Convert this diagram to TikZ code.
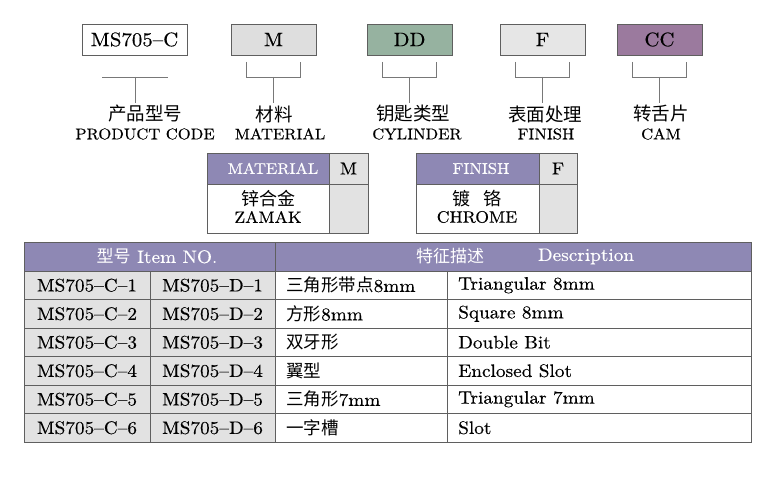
\documentclass[tikz,border=0pt]{standalone}
\usepackage{fontspec}
\setmainfont{lmroman10-regular}[Extension=.otf, Ligatures=TeX, FakeStretch=1.07, FakeBold=0.35]
\newfontfamily\cjk{Noto Sans CJK SC}
\definecolor{bordc}{RGB}{95,95,95}
\definecolor{brkc}{RGB}{120,120,120}
\definecolor{hdrpurple}{RGB}{142,136,180}
\definecolor{cellgray}{RGB}{226,226,226}
\definecolor{mgray}{RGB}{222,222,222}
\definecolor{fgray}{RGB}{230,230,230}
\definecolor{ddgreen}{RGB}{150,178,160}
\definecolor{ccpurple}{RGB}{155,122,158}
\tikzset{
  topbox/.style={draw=bordc, line width=0.8pt, minimum width=85pt, minimum height=31pt, inner sep=0pt, font=\fontsize{19.5}{22}\selectfont},
  brk/.style={draw=brkc, line width=0.9pt},
  cnlab/.style={inner sep=0pt, font=\cjk\fontsize{18.5}{20}\selectfont},
  enlab/.style={inner sep=0pt, font=\fontsize{15.5}{18}\selectfont},
  tline/.style={draw=bordc, line width=0.9pt},
  ttext/.style={inner sep=0pt, font=\fontsize{18}{20}\selectfont},
  tcn/.style={inner sep=0pt, font=\fontsize{18}{20}\selectfont, anchor=west},
  hdrtext/.style={inner sep=0pt, text=white, font=\fontsize{18}{20}\selectfont},
}
\newcommand{\tcjk}[1]{{\cjk\fontsize{17.5}{19}\selectfont #1}}
\begin{document}
\begin{tikzpicture}[x=1pt,y=-1pt]
\useasboundingbox[fill=white] (0,0) rectangle (778,500);

% ---------- top code boxes ----------
\node[topbox, fill=white, minimum width=105pt] (b1) at (134.5,39.5) {MS705--C};
\node[topbox, fill=mgray] (b2) at (273.5,39.5) {M};
\node[topbox, fill=ddgreen] (b3) at (409.5,39.5) {DD};
\node[topbox, fill=fgray] (b4) at (542.5,39.5) {F};
\node[topbox, fill=ccpurple] (b5) at (659.5,39.5) {CC};

% labels
\node[cnlab] (l1c) at (145,114) {产品型号};
\node[enlab] (l1e) at (145,134) {PRODUCT CODE};
\node[cnlab] (l2c) at (274,114) {材料};
\node[enlab] (l2e) at (280,134) {MATERIAL};
\node[cnlab] (l3c) at (413,114) {钥匙类型};
\node[enlab] (l3e) at (417,134) {CYLINDER};
\node[cnlab] (l4c) at (545,114) {表面处理};
\node[enlab] (l4e) at (546,134) {FINISH};
\node[cnlab] (l5c) at (661,114) {转舌片};
\node[enlab] (l5e) at (661,134) {CAM};

% bracket for product code (plain bar)
\coordinate (k1) at (135,77);
\draw[brk] (102,77) -- (168,77);
\draw[brk] (k1) -- (135,103);

% brackets
\foreach \b/\x in {2/273.5,3/409.5,4/542.5,5/659.5}{
  \coordinate (k\b) at (\x,77);
  \draw[brk] (\x-27,62) -- (\x-27,77) -- (\x+27,77) -- (\x+27,62);
  \draw[brk] (k\b) -- (\x,103);
}

% ---------- MATERIAL table ----------
\fill[hdrpurple] (207,153) rectangle (329,184);
\fill[cellgray] (329,153) rectangle (368,233);
\draw[tline] (207,153) rectangle (368,233);
\draw[tline] (207,184) -- (368,184);
\draw[tline] (329,153) -- (329,233);
\node[inner sep=0pt, text=white, font=\fontsize{15.5}{18}\selectfont] (mh) at (273,168.5) {MATERIAL};
\node[inner sep=0pt, font=\fontsize{17.5}{20}\selectfont] (mm) at (348.5,168.5) {M};
\node[inner sep=0pt, font=\cjk\fontsize{18}{20}\selectfont] (mc) at (268,199) {锌合金};
\node[inner sep=0pt, font=\fontsize{16.5}{19}\selectfont] (me) at (268,217) {ZAMAK};

% ---------- FINISH table ----------
\fill[hdrpurple] (416,153) rectangle (539,184);
\fill[cellgray] (539,153) rectangle (577,233);
\draw[tline] (416,153) rectangle (577,233);
\draw[tline] (416,184) -- (577,184);
\draw[tline] (539,153) -- (539,233);
\node[inner sep=0pt, text=white, font=\fontsize{15.5}{18}\selectfont] (fh) at (481,168.5) {FINISH};
\node[inner sep=0pt, font=\fontsize{17.5}{20}\selectfont] (ff) at (558,168.5) {F};
\node[inner sep=0pt, font=\cjk\fontsize{18}{20}\selectfont] (fc) at (477,199) {镀\hspace{0.7em}铬};
\node[inner sep=0pt, font=\fontsize{16.5}{19}\selectfont] (fe) at (477,217) {CHROME};

% ---------- main table ----------
\fill[hdrpurple] (24,242) rectangle (751,271);
\fill[cellgray] (24,271) rectangle (275,442);
\draw[tline] (24,242) rectangle (751,442);
\foreach \y in {271,299.5,328,356.5,385,413.5}{
  \draw[tline] (24,\y) -- (751,\y);
}
\draw[tline] (150,271) -- (150,442);
\draw[tline] (275,242) -- (275,442);
\draw[tline] (447,271) -- (447,442);

\node[hdrtext] (h1) at (157,256.5) {{\cjk\fontsize{17}{19}\selectfont 型号} Item NO.};
\node[hdrtext, font=\cjk\fontsize{17}{19}\selectfont] (h2) at (450,256.5) {特征描述};
\node[hdrtext] (h3) at (586,256.5) {Description};

\foreach \i/\cn/\en in {
  1/{\tcjk{三角形带点}8mm}/{Triangular 8mm},
  2/{\tcjk{方形}8mm}/{Square 8mm},
  3/{\tcjk{双牙形}}/{Double Bit},
  4/{\tcjk{翼型}}/{Enclosed Slot},
  5/{\tcjk{三角形}7mm}/{Triangular 7mm},
  6/{\tcjk{一字槽}}/{Slot}}{
  \pgfmathsetmacro{\yy}{271+(\i-0.5)*28.5}
  \node[ttext] (ra\i) at (87,\yy) {MS705--C--\i};
  \node[ttext] (rb\i) at (212.5,\yy) {MS705--D--\i};
  \node[tcn] (rc\i) at (286,\yy) {\cn};
  \node[tcn] (rd\i) at (458,\yy) {\en};
}
\end{tikzpicture}
\end{document}
